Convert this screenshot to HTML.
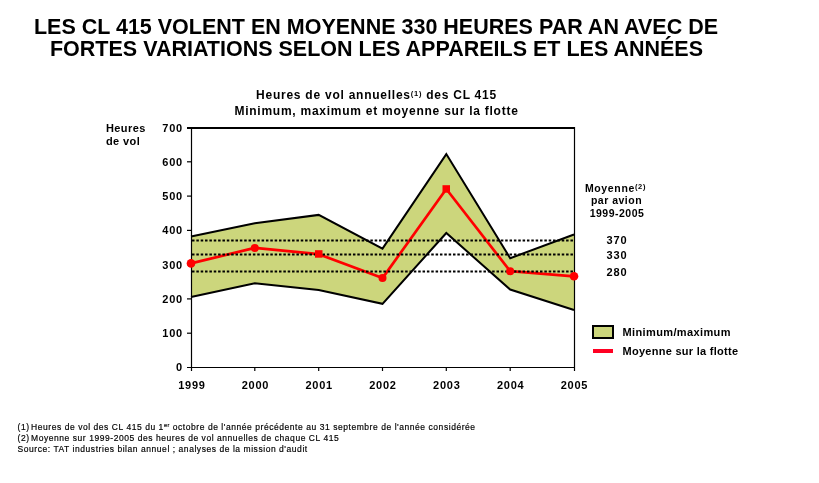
<!DOCTYPE html>
<html><head><meta charset="utf-8">
<style>
html,body{margin:0;padding:0;background:#fff;}
body{width:819px;height:483px;overflow:hidden;position:relative;font-family:"Liberation Sans",sans-serif;color:#000;}
.t{position:absolute;white-space:nowrap;}
svg{position:absolute;left:0;top:0;will-change:transform;}
</style></head><body>
<svg width="819" height="483" viewBox="0 0 819 483" font-family="Liberation Sans" >
  <!-- title -->
  <g font-weight="bold" font-size="21.5" text-anchor="middle">
    <text x="376" y="34">LES CL 415 VOLENT EN MOYENNE 330 HEURES PAR AN AVEC DE</text>
    <text x="376.5" y="55.8">FORTES VARIATIONS SELON LES APPAREILS ET LES ANNÉES</text>
  </g>
  <g font-weight="bold" font-size="12" text-anchor="middle" letter-spacing="0.75">
    <text x="376.5" y="99.2">Heures de vol annuelles<tspan font-size="7.5" dy="-3.5">(1)</tspan><tspan dy="3.5"> des CL 415</tspan></text>
    <text x="376.5" y="115.3">Minimum, maximum et moyenne sur la flotte</text>
  </g>
  <g font-weight="bold" font-size="11" letter-spacing="0.4">
    <text x="106" y="131.8">Heures</text>
    <text x="106" y="144.7">de vol</text>
  </g>
  <!-- band -->
  <polygon fill="#CCD67C" stroke="none"
    points="191,236.5 254.8,223.2 318.7,214.9 382.5,248.6 446.3,154.1 510.2,258.2 574,234.5 574,310 510.2,289.5 446.3,233 382.5,303.8 318.7,290 254.8,283.3 191,297"/>
  <!-- max/min lines -->
  <g fill="none" stroke="#000" stroke-width="2" stroke-linejoin="miter">
    <polyline points="191,236.5 254.8,223.2 318.7,214.9 382.5,248.6 446.3,154.1 510.2,258.2 574,234.5"/>
    <polyline points="191,297 254.8,283.3 318.7,290 382.5,303.8 446.3,233 510.2,289.5 574,310"/>
  </g>
  <!-- axes -->
  <g stroke="#000" fill="none">
    <line x1="187" y1="128" x2="575" y2="128" stroke-width="2"/>
    <line x1="191.5" y1="127" x2="191.5" y2="371" stroke-width="1.2"/>
    <line x1="574.5" y1="127" x2="574.5" y2="371" stroke-width="1.2"/>
    <line x1="187" y1="367.5" x2="575" y2="367.5" stroke-width="1.2"/>
    <g stroke-width="1.2">
      <line x1="187" y1="161.8" x2="191" y2="161.8"/>
      <line x1="187" y1="196.1" x2="191" y2="196.1"/>
      <line x1="187" y1="230.4" x2="191" y2="230.4"/>
      <line x1="187" y1="264.6" x2="191" y2="264.6"/>
      <line x1="187" y1="298.9" x2="191" y2="298.9"/>
      <line x1="187" y1="333.2" x2="191" y2="333.2"/>
      <line x1="254.8" y1="367" x2="254.8" y2="371"/>
      <line x1="318.7" y1="367" x2="318.7" y2="371"/>
      <line x1="382.5" y1="367" x2="382.5" y2="371"/>
      <line x1="446.3" y1="367" x2="446.3" y2="371"/>
      <line x1="510.2" y1="367" x2="510.2" y2="371"/>
    </g>
  </g>
  <!-- mean line -->
  <polyline fill="none" stroke="#FF0000" stroke-width="2.7" stroke-linejoin="round"
    points="191,263.4 254.8,247.9 318.7,254.2 382.5,278.1 446.3,189 510.2,271.2 574,276.3"/>
  <!-- dotted lines -->
  <g stroke="#000" stroke-width="2" stroke-dasharray="2.5 1.85">
    <line x1="192" y1="240.6" x2="574" y2="240.6"/>
    <line x1="192" y1="254.4" x2="574" y2="254.4"/>
    <line x1="192" y1="271.5" x2="574" y2="271.5"/>
  </g>
  <g fill="#FF0000">
    <circle cx="191" cy="263.4" r="4.3"/>
    <circle cx="254.8" cy="247.9" r="4"/>
    <rect x="315" y="250.2" width="7.5" height="7.5"/>
    <circle cx="382.5" cy="278.1" r="4"/>
    <rect x="442.5" y="185.2" width="7.5" height="7.5"/>
    <circle cx="510.2" cy="271.2" r="4"/>
    <circle cx="574" cy="276.3" r="4.3"/>
  </g>
  <!-- y labels -->
  <g font-weight="bold" font-size="11" text-anchor="end" letter-spacing="0.8">
    <text x="183" y="131.5">700</text>
    <text x="183" y="165.8">600</text>
    <text x="183" y="200.1">500</text>
    <text x="183" y="234.4">400</text>
    <text x="183" y="268.6">300</text>
    <text x="183" y="302.9">200</text>
    <text x="183" y="337.2">100</text>
    <text x="183" y="371.2">0</text>
  </g>
  <g font-weight="bold" font-size="11" text-anchor="middle" letter-spacing="0.75">
    <text x="192" y="388.5">1999</text>
    <text x="255.5" y="388.5">2000</text>
    <text x="319.2" y="388.5">2001</text>
    <text x="383" y="388.5">2002</text>
    <text x="446.8" y="388.5">2003</text>
    <text x="510.7" y="388.5">2004</text>
    <text x="574.5" y="388.5">2005</text>
  </g>
  <!-- right annotations -->
  <g font-weight="bold" font-size="10.5" text-anchor="middle" letter-spacing="0.65">
    <text x="615.5" y="192">Moyenne<tspan font-size="7.5" dy="-3.5">(2)</tspan></text>
    <text x="616.5" y="204.3" letter-spacing="0.5">par avion</text>
    <text x="617" y="217.2" letter-spacing="0.5">1999-2005</text>
  </g>
  <g font-weight="bold" font-size="11" text-anchor="middle" letter-spacing="0.9">
    <text x="617" y="243.6">370</text>
    <text x="617" y="258.5">330</text>
    <text x="617" y="275.6">280</text>
  </g>
  <!-- legend -->
  <rect x="593" y="326" width="20" height="12" fill="#CCD67C" stroke="#000" stroke-width="2"/>
  <rect x="593" y="349" width="20" height="4" fill="#FF0022"/>
  <g font-weight="bold" font-size="11" letter-spacing="0.38">
    <text x="622.5" y="336.1">Minimum/maximum</text>
    <text x="622.5" y="355" letter-spacing="0.28">Moyenne sur la flotte</text>
  </g>
  <!-- footnotes -->
  <g font-size="8.5" letter-spacing="0.55" stroke="#000" stroke-width="0.18">
    <text x="17.5" y="430.1">(1)<tspan dx="1.5">Heures</tspan> de vol des CL 415 du 1<tspan font-size="5.5" dy="-3">er</tspan><tspan dy="3"> octobre de l'année précédente au 31 septembre de l'année considérée</tspan></text>
    <text x="17.5" y="441.4">(2)<tspan dx="1.5">Moyenne</tspan> sur 1999-2005 des heures de vol annuelles de chaque CL 415</text>
    <text x="17.5" y="451.6">Source: TAT industries bilan annuel ; analyses de la mission d'audit</text>
  </g>
</svg>
</body></html>
